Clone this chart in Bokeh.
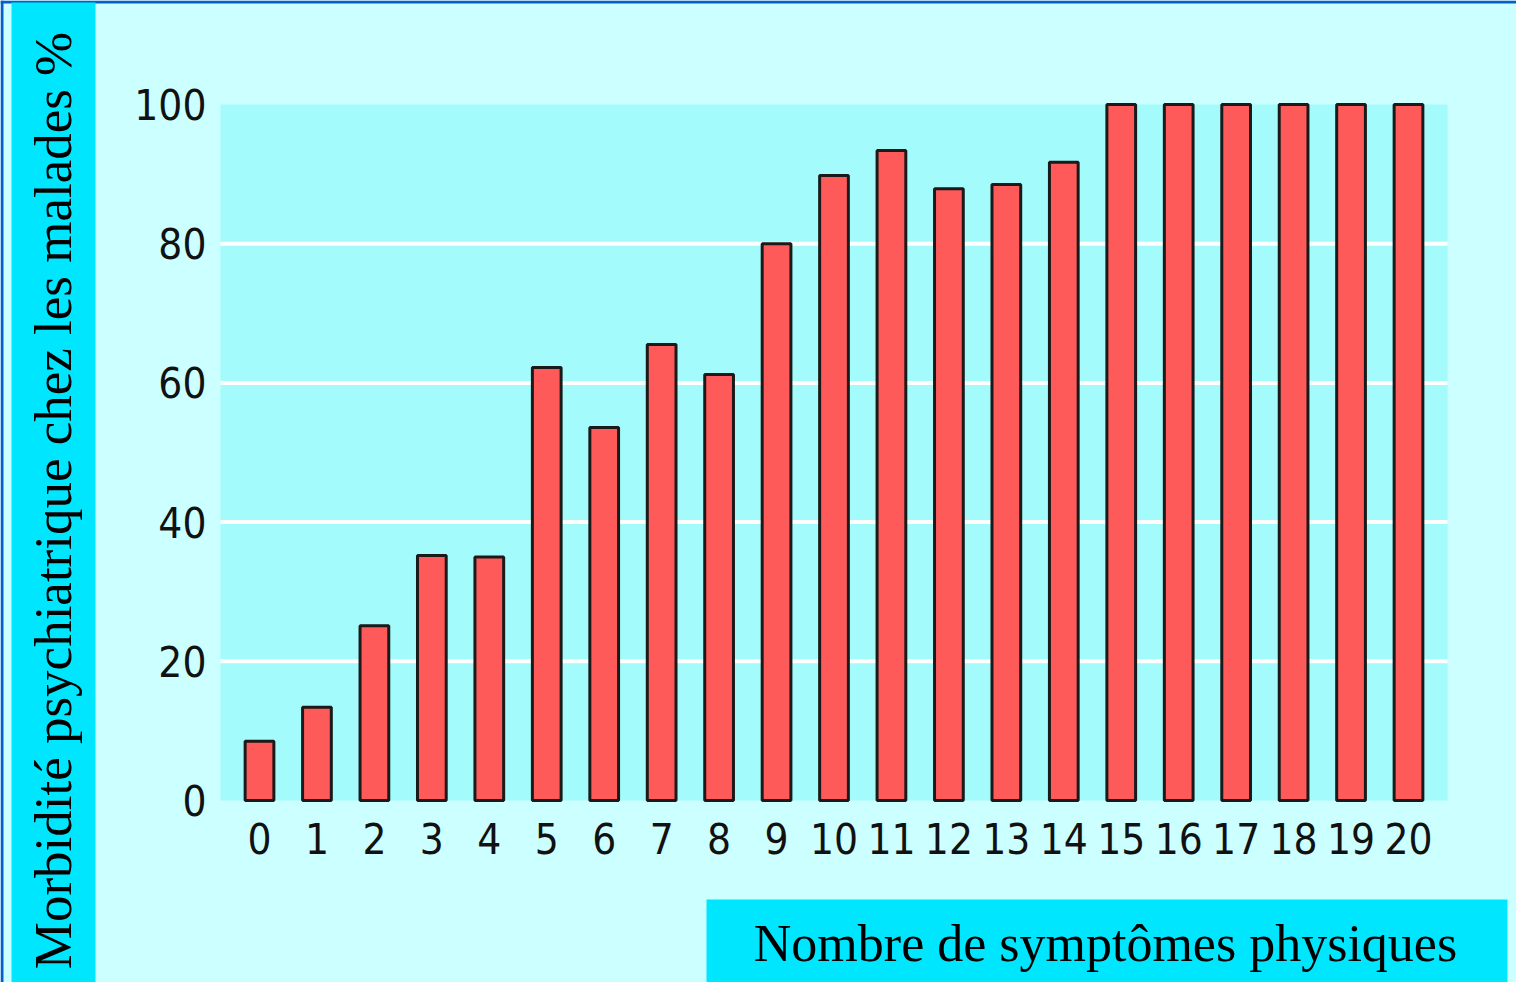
import math
from bokeh.plotting import figure
from bokeh.models import BoxAnnotation, Label, Range1d, FixedTicker
from bokeh.embed import file_html
from bokeh.resources import INLINE

# ---- data ----
symptoms = list(range(21))
symptom_labels = [str(i) for i in symptoms]
morbidity = [8.5, 13.4, 25.1, 35.2, 35.0, 62.2, 53.6, 65.5, 61.2, 80.0,
             89.8, 93.4, 87.9, 88.5, 91.7, 100, 100, 100, 100, 100, 100]
y_ticks = [0, 20, 40, 60, 80, 100]
grid_ticks = [20, 40, 60, 80]
y_title = "Morbidité psychiatrique chez les malades %"
x_title = "Nombre de symptômes physiques"

# ---- style ----
PAGE_BG = "#CCFFFF"
PLOT_BG = "#A3FBFB"
BAND = "#00E6FF"
FRAME_BLUE = "#0A5CC8"
BAR = "#FF5A5A"
TICK_FONT = "'DejaVu Sans Condensed', sans-serif"
SERIF = "'Liberation Serif', 'Times New Roman', serif"

W, H = 1516, 982
# plot-area placement in canvas pixels
PX_LEFT, PX_TOP, PX_BOTTOM = 259.0, 104.0, 800.0   # x=0 centre, y=100, y=0
X_STEP = 57.45
Y_SCALE = (PX_BOTTOM - PX_TOP) / 100.0
XLO, XHI = -0.68, 20.68

x_start = -PX_LEFT / X_STEP
x_end = (W - PX_LEFT) / X_STEP
y_end = 100 + PX_TOP / Y_SCALE
y_start = -(H - PX_BOTTOM) / Y_SCALE

p = figure(width=W, height=H, output_backend="svg", toolbar_location=None,
           x_range=Range1d(x_start, x_end), y_range=Range1d(y_start, y_end),
           min_border=0, min_border_left=0, min_border_right=0,
           min_border_top=0, min_border_bottom=0)
p.background_fill_color = PAGE_BG
p.border_fill_color = PAGE_BG
p.outline_line_color = None


def screen_box(left, right, bottom, top, color, level="underlay"):
    return BoxAnnotation(left=left, right=right, top=top, bottom=bottom,
                         left_units="screen", right_units="screen",
                         top_units="screen", bottom_units="screen",
                         fill_color=color, fill_alpha=1, line_color=None, level=level)


# page frame and title bands
p.add_layout(screen_box(0, W, H - 3, H, FRAME_BLUE))
p.add_layout(screen_box(0, 3, 0, H, FRAME_BLUE))
p.add_layout(screen_box(11, 95, 0, H - 2, BAND))
p.add_layout(screen_box(706, 1507, 0, 83, BAND))

# plot area background
p.quad(left=[XLO], right=[XHI], bottom=[0], top=[100],
       fill_color=PLOT_BG, line_color=None, level="image")

# grid lines limited to the plot area
p.grid.visible = False
p.segment(x0=[XLO] * len(grid_ticks), x1=[XHI] * len(grid_ticks),
          y0=grid_ticks, y1=grid_ticks, line_color="white", line_width=4,
          level="underlay")

# bars
p.vbar(x=symptoms, top=morbidity, width=0.5, bottom=0,
       fill_color=BAR, line_color="#1a1a1a", line_width=3)

# axes fixed at the plot-area edges
p.yaxis.ticker = FixedTicker(ticks=y_ticks)
p.yaxis.fixed_location = XLO
p.xaxis.ticker = FixedTicker(ticks=symptoms)
p.xaxis.fixed_location = 0
p.xaxis.major_label_overrides = {i: s for i, s in zip(symptoms, symptom_labels)}
for ax in (p.xaxis, p.yaxis):
    ax.axis_line_color = None
    ax.major_tick_line_color = None
    ax.minor_tick_line_color = None
    ax.major_tick_in = 0
    ax.major_tick_out = 0
    ax.minor_tick_in = 0
    ax.minor_tick_out = 0
    ax.major_label_text_font = TICK_FONT
    ax.major_label_text_font_size = "42px"
    ax.major_label_text_color = "#111111"
p.yaxis.major_label_standoff = 14
p.xaxis.major_label_standoff = 22

# titles
p.add_layout(Label(x=52, y=482, x_units="screen", y_units="screen",
                   text=y_title, angle=math.pi / 2,
                   text_align="center", text_baseline="alphabetic",
                   text_font=SERIF, text_font_size="53px", text_color="black"))
p.add_layout(Label(x=1105, y=39, x_units="screen", y_units="screen",
                   text=x_title, text_align="center", text_baseline="alphabetic",
                   text_font=SERIF, text_font_size="52px", text_color="black"))

open("out.html", "w").write(file_html(p, INLINE))
